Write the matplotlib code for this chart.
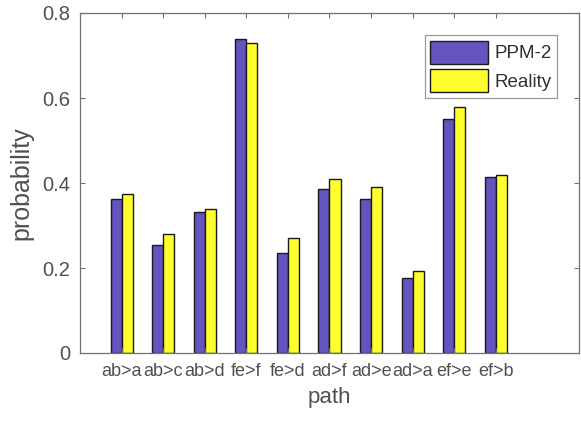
import matplotlib
matplotlib.use("Agg")
import matplotlib.pyplot as plt
import numpy as np

paths = ["ab>a", "ab>c", "ab>d", "fe>f", "fe>d", "ad>f", "ad>e", "ad>a", "ef>e", "ef>b"]
ppm2 = [0.362, 0.254, 0.332, 0.738, 0.235, 0.385, 0.362, 0.177, 0.550, 0.415]
reality = [0.374, 0.280, 0.340, 0.730, 0.271, 0.410, 0.390, 0.193, 0.578, 0.418]
yticks = [0, 0.2, 0.4, 0.6, 0.8]
ytick_labels = ["0", "0.2", "0.4", "0.6", "0.8"]

plt.rcParams['font.family'] = ['Liberation Sans', 'DejaVu Sans']
txt = '#505050'
spine = '#707070'

fig = plt.figure(figsize=(5.81, 4.33), dpi=100)
ax = fig.add_axes([80/581, 1-353/433, 499/581, 340/433])

x = np.arange(1, len(paths) + 1)
w = 0.265
ax.bar(x - w/2, ppm2, w, color='#6654be', edgecolor='#1a1a1a', linewidth=1.0, label='PPM-2')
ax.bar(x + w/2, reality, w, color='#ffff30', edgecolor='#1a1a1a', linewidth=1.0, label='Reality')

ax.set_xlim(0, 12)
ax.set_ylim(0, 0.8)
ax.set_xticks(x)
ax.set_xticklabels(paths, fontsize=13, color=txt)
ax.set_yticks(yticks)
ax.set_yticklabels(ytick_labels, fontsize=14.5, color=txt)
ax.tick_params(direction='in', length=3.5, width=0.8, color=spine, top=True, right=True, pad=7)
for s in ax.spines.values():
    s.set_color(spine)
    s.set_linewidth(0.9)

ax.set_xlabel('path', fontsize=16, color=txt, labelpad=5)
ax.set_ylabel('probability', fontsize=18, color=txt, labelpad=6)

leg = ax.legend(loc='upper right', bbox_to_anchor=(0.956, 0.935), borderaxespad=0,
                fontsize=13.5, handlelength=3.1, handleheight=1.5, handletextpad=0.3,
                borderpad=0.3, labelspacing=0.3, fancybox=False, frameon=True)
leg.get_frame().set_edgecolor('#808080')
leg.get_frame().set_linewidth(0.9)
for t in leg.get_texts():
    t.set_color('#303030')

fig.savefig('out.png', dpi=100)
